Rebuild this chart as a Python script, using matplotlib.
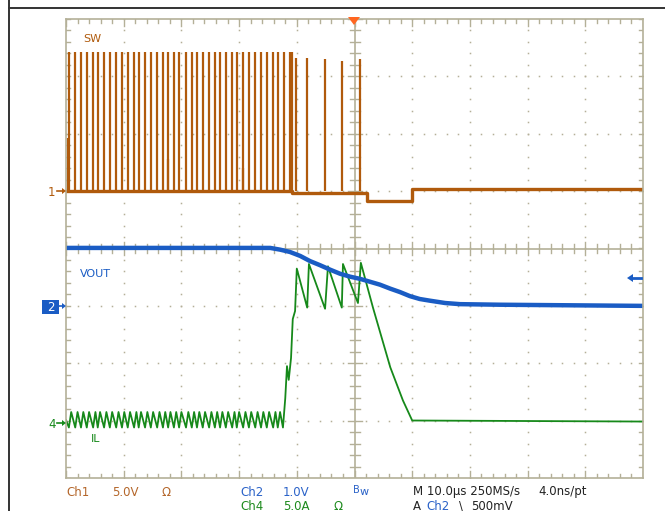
import numpy as np
import matplotlib
matplotlib.use('Agg')
import matplotlib.pyplot as plt
from matplotlib.lines import Line2D
from matplotlib.patches import Polygon, Rectangle

W, H = 665, 511

'''
    values read off the scope screen, time in us
'''
# Ch1 : SW node, 5 V/div
sw_pulse_t = [-49.5, -48.4, -47.4, -46.4, -45.3, -44.5, -43.4, -42.4, -41.3, -40.3,
              -39.3, -38.2, -37.4, -36.3, -35.3, -34.2, -33.2, -32.3, -31.3, -30.4,
              -29.2, -28.2, -27.3, -26.3, -25.2, -24.2, -23.3, -22.3, -21.2, -20.4,
              -19.3, -18.3, -17.2, -16.2, -15.2, -14.1, -13.3, -12.2, -11.2, -10.8,
              -10.1, -8.2, -5.1, -2.2, 1.0]
sw_pulse_v = [12.1] * 40 + [11.6, 11.6, 11.5, 11.3, 11.5]
sw_short_t = [-49.7, -32.4, -19.4]
sw_short_v = [4.6, 2.8, 2.0]
sw_base_t = [-50, -10.8, -10.8, 2.2, 2.2, 10.0, 10.0, 50]
sw_base_v = [0.0, 0.0, -0.15, -0.15, -0.9, -0.9, 0.2, 0.2]

# Ch2 : VOUT, 1 V/div
vout_t = [-50, -14.6, -12.9, -11.2, -9.4, -7.7, -6.0, -4.2, -2.5, -0.8, 1.0, 2.7,
          4.4, 6.2, 7.9, 9.6, 11.3, 13.1, 15.7, 18.3, 25.2, 50]
vout_v = [1.01, 1.01, 0.98, 0.94, 0.87, 0.78, 0.71, 0.63, 0.56, 0.51, 0.47, 0.42,
          0.37, 0.30, 0.24, 0.17, 0.12, 0.09, 0.05, 0.03, 0.02, 0.0]

# Ch4 : IL, 5 A/div
il_lo, il_hi, il_rise = -0.35, 1.0, 0.4
il_tooth_t = sw_pulse_t[:37]
il_step_t = [-12.4, -12.0, -11.7, -11.4, -11.0, -10.7, -10.3, -10.0, -8.2, -7.9,
             -5.1, -4.6, -2.2, -2.0, 0.6, 1.1, 3.2, 6.2, 8.4, 10.0, 50]
il_step_v = [-0.35, 2.2, 5.0, 3.8, 5.7, 9.1, 9.8, 13.5, 10.1, 13.9,
             10.0, 13.7, 10.1, 13.9, 10.5, 14.0, 10.1, 4.9, 2.0, 0.26, 0.17]

# channel settings (V/div, ground position in div)
CH1 = (5.0, 1.0)
CH2 = (1.0, -1.0)
CH4 = (5.0, -3.05)

c_sw = '#b05a0c'
c_vo = '#1a5cc4'
c_il = '#16891a'
c_grid = '#b4b098'

def to_div(v, ch):
    return np.asarray(v) / ch[0] + ch[1]

def px(x, y):
    return (x / W, 1 - y / H)

fig = plt.figure(figsize=(W / 100, H / 100), dpi=100)
ax = fig.add_axes([66 / W, (H - 478) / H, 577 / W, 459 / H])
ax.set_xlim(-50, 50)
ax.set_ylim(-4, 4)
ax.set_xticks([])
ax.set_yticks([])
for s in ax.spines.values():
    s.set_color(c_grid)
    s.set_linewidth(1.2)

'''
    graticule
'''
dx = 10 / 57.7   # us per pixel
dy = 1 / 57.4    # div per pixel
ys = np.arange(-4, 4.01, 0.2)
xs = np.arange(-50, 50.01, 2)
for gx in range(-40, 50, 10):
    if gx == 0:
        continue
    ax.plot([gx] * len(ys), ys, ls='none', marker='s', ms=1.1, mew=0, color=c_grid)
for gy in range(-3, 4):
    if gy == 0:
        continue
    ax.plot(xs, [gy] * len(xs), ls='none', marker='s', ms=1.1, mew=0, color=c_grid)
ax.axvline(0, color=c_grid, lw=1.2)
ax.axhline(0, color=c_grid, lw=1.2)
for yy in ys:
    L = 7 if abs(yy - round(yy)) < 1e-6 else 5
    ax.plot([-L * dx, L * dx], [yy, yy], color=c_grid, lw=1)
    ax.plot([-50, -50 + 4 * dx], [yy, yy], color=c_grid, lw=1)
    ax.plot([50, 50 - 4 * dx], [yy, yy], color=c_grid, lw=1)
for xx in xs:
    L = 7 if abs(xx / 10 - round(xx / 10)) < 1e-6 else 5
    ax.plot([xx, xx], [-L * dy, L * dy], color=c_grid, lw=1)
    L2 = 7 if L == 7 else 4
    ax.plot([xx, xx], [4, 4 - L2 * dy], color=c_grid, lw=1)
    ax.plot([xx, xx], [-4, -4 + L2 * dy], color=c_grid, lw=1)

'''
    traces
'''
# SW
ax.vlines(sw_pulse_t, to_div(0, CH1), to_div(sw_pulse_v, CH1), color=c_sw, lw=1.6)
ax.vlines(sw_short_t, to_div(0, CH1), to_div(sw_short_v, CH1), color=c_sw, lw=1.6)
ax.plot(sw_base_t, to_div(sw_base_v, CH1), color=c_sw, lw=2.4)

# IL
il_t, il_v = [-50], [0.3]
for t0 in il_tooth_t:
    il_t += [t0, t0 + il_rise]
    il_v += [il_lo, il_hi]
il_t += il_step_t
il_v += il_step_v
ax.plot(il_t, to_div(il_v, CH4), color=c_il, lw=1.3)

# VOUT
ax.plot(vout_t, to_div(vout_v, CH2), color=c_vo, lw=3.2)

'''
    labels on the screen
'''
fnt = ['Liberation Sans Narrow', 'DejaVu Sans']
fig.text(*px(83, 39), 'SW', color=c_sw, fontsize=8, va='center', family=fnt)
fig.text(*px(80, 274), 'VOUT', color=c_vo, fontsize=8, va='center', family=fnt)
fig.text(*px(91, 439), 'IL', color=c_il, fontsize=8, va='center', family=fnt)

def marker_arrow(y, col, x0=57, x1=66):
    fig.add_artist(Line2D([x0 / W, (x1 - 3) / W], [1 - y / H] * 2, color=col, lw=1.2))
    fig.add_artist(Polygon([px(x1 - 4, y - 3), px(x1 - 4, y + 3), px(x1, y)],
                           closed=True, color=col, lw=0))

fig.text(*px(48, 192), '1', color=c_sw, fontsize=8.5, va='center', family=fnt)
marker_arrow(191, c_sw)
fig.text(*px(48, 424), '4', color=c_il, fontsize=8.5, va='center', family=fnt)
marker_arrow(423, c_il)
r = Rectangle(px(42, 314), 17 / W, 14 / H, color=c_vo, lw=0)
fig.add_artist(r)
fig.text(*px(47, 307), '2', color='white', fontsize=8.5, va='center', family=fnt)
marker_arrow(306, c_vo, x0=59)

# ch2 level arrow on the right
fig.add_artist(Line2D([633 / W, 641 / W], [1 - 278 / H] * 2, color=c_vo, lw=2))
fig.add_artist(Polygon([px(627, 278), px(633, 274), px(633, 282)], closed=True,
                       color=c_vo, lw=0))
# trigger position
fig.add_artist(Polygon([px(348, 17), px(360, 17), px(354, 25)], closed=True,
                       color='#ff6620', lw=0))

# window frame
fig.add_artist(Line2D([9 / W, 1], [1 - 8.5 / H] * 2, color='#333333', lw=1.4))
fig.add_artist(Line2D([9 / W, 9 / W], [0, 1], color='#333333', lw=1.4))

'''
    status read-out
'''
c1 = '#b4662a'
c2 = '#2a62c8'
c4 = '#1d8a1d'
row1, row2 = 492, 506
for x, s, c, y in [(66, 'Ch1', c1, row1), (112, '5.0V', c1, row1), (162, 'Ω', c1, row1),
                   (240, 'Ch2', c2, row1), (283, '1.0V', c2, row1),
                   (240, 'Ch4', c4, row2), (283, '5.0A', c4, row2), (334, 'Ω', c4, row2),
                   (413, 'M 10.0µs 250MS/s', '#222222', row1),
                   (538, '4.0ns/pt', '#222222', row1),
                   (413, 'A', '#222222', row2), (426, 'Ch2', c2, row2),
                   (459, '\\', '#222222', row2), (471, '500mV', '#222222', row2)]:
    fig.text(*px(x, y), s, color=c, fontsize=8.5, va='center', family=fnt)
fig.text(*px(353, 490), 'B', color=c2, fontsize=7, va='center', family=fnt)
fig.text(*px(360, 492), 'w', color=c2, fontsize=8, va='center', family=fnt)

fig.savefig('out.png', dpi=100)
